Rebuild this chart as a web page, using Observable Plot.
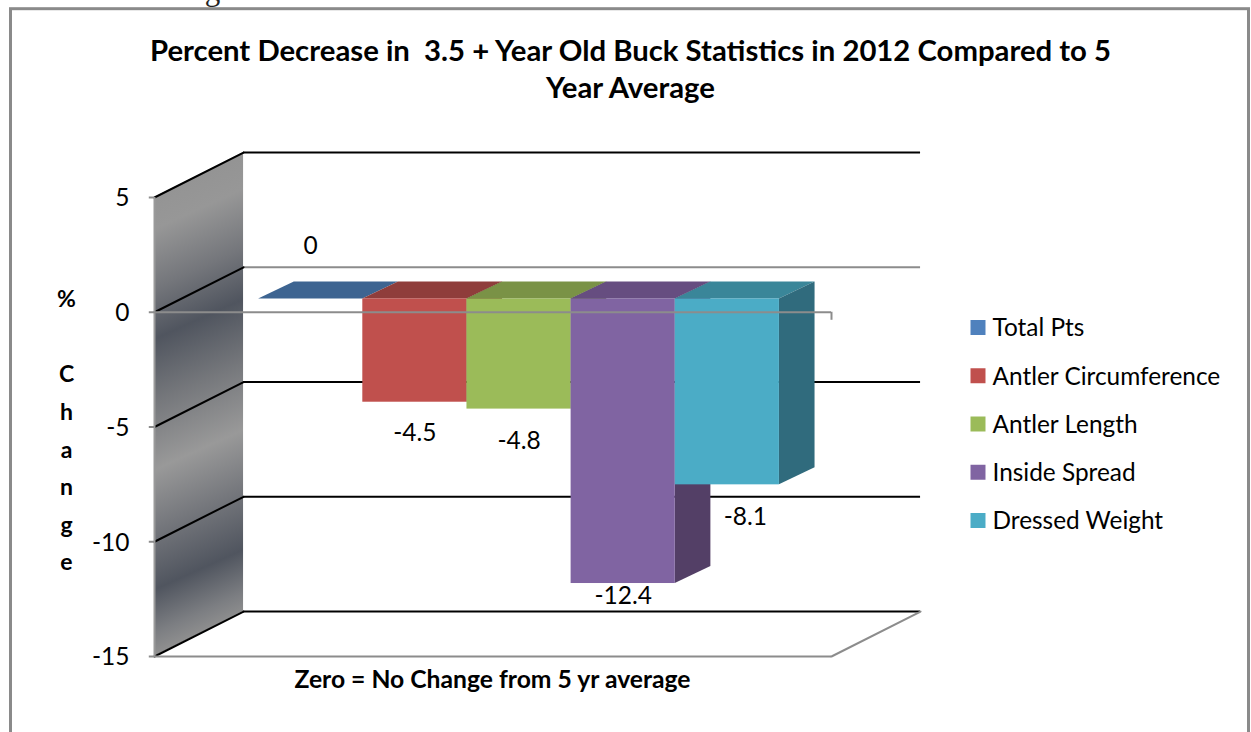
<!DOCTYPE html>
<html>
<head>
<meta charset="utf-8">
<script src="https://cdn.jsdelivr.net/npm/d3@7"></script>
<script src="https://cdn.jsdelivr.net/npm/@observablehq/plot@0.6"></script>
<style>
html,body{margin:0;padding:0;background:#fff;overflow:hidden}
svg{display:block}
</style>
</head>
<body>
<div id="chart"></div>
<script>
const seriesNames = ["Total Pts", "Antler Circumference", "Antler Length", "Inside Spread", "Dressed Weight"];
const seriesValues = [0, -4.5, -4.8, -12.4, -8.1];
const valueLabels = ["0", "-4.5", "-4.8", "-12.4", "-8.1"];
const frontColors = ["#4f81bd", "#c0504d", "#9bbb59", "#8064a2", "#4bacc6"];
const topColors = ["#3d6491", "#8f3d3b", "#7a9246", "#664d80", "#3a8699"];
const sideColors = ["#2f4d71", "#6f2f2d", "#5d7035", "#533f66", "#306b7d"];
const yTicks = [5, 0, -5, -10, -15];
const titleText = "Percent Decrease in  3.5 + Year Old Buck Statistics in 2012 Compared to 5\nYear Average";
const captionText = "Zero = No Change from 5 yr average";
const yAxisTitle = "%\n\nC\nh\na\nn\ng\ne";
const clippedText = "below the average.";

// 3-D projection, in scale units
const wallDepthX = 0.855, wallDepthY = 1.96;
const barDepthX = 0.342, barDepthY = 0.74, barLift = 0.58;
const xMin = -1, xMax = 5.5, yMin = -15, yMax = 5;
const ink = "#000", rim = "#8c8c8c";
const font = "Lato, Carlito, sans-serif";

// label offsets (px) relative to the bar end
const labelDx = [0, 0, 0, 0, 18];
const labelDy = [-53, 31, 32, 13, 32];

const wallDefs = (index, {x, y}) => {
  const svgNS = "http://www.w3.org/2000/svg";
  const defs = document.createElementNS(svgNS, "defs");
  const g = document.createElementNS(svgNS, "linearGradient");
  g.setAttribute("id", "wallGrad");
  g.setAttribute("gradientUnits", "userSpaceOnUse");
  const x0 = x(xMin), y0 = y(yMax), k = 4.29;
  g.setAttribute("x1", x0); g.setAttribute("y1", y0);
  g.setAttribute("x2", x0 + 40 * k); g.setAttribute("y2", y0 + 89 * k);
  [[0, "#949494"], [0.07, "#979797"], [0.2, "#74767b"], [0.31, "#50555f"], [0.45, "#76787c"],
   [0.595, "#999999"], [0.72, "#76787d"], [0.856, "#50555f"], [0.95, "#7c7e82"], [1, "#909090"]]
    .forEach(([o, c]) => {
      const s = document.createElementNS(svgNS, "stop");
      s.setAttribute("offset", o); s.setAttribute("stop-color", c);
      g.appendChild(s);
    });
  defs.appendChild(g);
  return defs;
};

const marks = [
  wallDefs,
  Plot.frame({insetLeft: 10, insetTop: 8.2, insetRight: 3, insetBottom: -10, stroke: "#8a8a8a", strokeWidth: 3}),
  Plot.text([clippedText], {text: d => d, frameAnchor: "top-left", dx: 8, dy: -0.2, textAnchor: "start", lineAnchor: "bottom",
    fontFamily: "Liberation Serif", fontSize: 31, fill: "#222"}),
  // wall
  Plot.areaY([xMin, xMin + wallDepthX], {
    x: d => d,
    y1: d => yMin + (d - xMin) / wallDepthX * wallDepthY,
    y2: d => yMax + (d - xMin) / wallDepthX * wallDepthY,
    fill: "url(#wallGrad)"
  }),
  // back grid lines
  Plot.ruleY(yTicks, {
    y: d => d + wallDepthY, x1: xMin + wallDepthX, x2: xMax + wallDepthX,
    stroke: d => d === 0 ? rim : ink, strokeWidth: 2
  }),
  // wall diagonals
  ...yTicks.map(t => Plot.line([0, 1], {
    x: d => xMin + d * wallDepthX, y: d => t + d * wallDepthY, stroke: ink, strokeWidth: 2
  })),
  // left axis + ticks
  Plot.ruleX([xMin], {y1: yMin, y2: yMax, stroke: "#9a9a9a", strokeWidth: 2}),
  Plot.ruleY(yTicks, {x1: xMin - 0.05, x2: xMin, stroke: rim, strokeWidth: 2}),
  // floor
  Plot.ruleY([yMin], {x1: xMin, x2: xMax, stroke: rim, strokeWidth: 2}),
  Plot.line([0, 1], {x: d => xMax + d * wallDepthX, y: d => yMin + d * wallDepthY, stroke: rim, strokeWidth: 2}),
  // bars
  ...seriesValues.flatMap((v, i) => {
    const base = barLift, end = v + barLift;
    return [
      Plot.areaX([0, 1], {
        y: d => base + d * barDepthY,
        x1: d => i + d * barDepthX,
        x2: d => i + 1 + d * barDepthX,
        fill: topColors[i]
      }),
      ...(v < 0 ? [
        Plot.areaY([0, 1], {
          x: d => i + 1 + d * barDepthX,
          y1: d => end + d * barDepthY,
          y2: d => base + d * barDepthY,
          fill: sideColors[i]
        }),
        Plot.rect([v], {x1: i, x2: i + 1, y1: end, y2: base, fill: frontColors[i]})
      ] : [])
    ];
  }),
  // zero line in front
  Plot.ruleY([0], {x1: xMin, x2: xMax, stroke: rim, strokeWidth: 2}),
  Plot.ruleX([xMax], {y1: 0, y2: -0.35, stroke: rim, strokeWidth: 2}),
  // tick labels
  Plot.text(yTicks, {x: xMin, y: d => d, text: d => String(d), dx: -25, dy: 1, textAnchor: "end",
    fontFamily: font, fontSize: 24.5, fill: "#000"}),
  // value labels
  ...seriesValues.map((v, i) => Plot.text([valueLabels[i]], {
    x: i + 0.5, y: v + barLift, text: d => d, dx: labelDx[i], dy: labelDy[i],
    fontFamily: font, fontSize: 24.5, fill: "#000"
  })),
  // title, caption, axis title
  Plot.text([titleText], {text: d => d, frameAnchor: "top-left", dx: 630, dy: 34, textAnchor: "middle", lineAnchor: "top",
    fontFamily: font, fontWeight: 700, fontSize: 29.3, lineHeight: 1.26, fill: "#000"}),
  Plot.text([captionText], {text: d => d, frameAnchor: "top-left", dx: 492, dy: 680, textAnchor: "middle", lineAnchor: "middle",
    fontFamily: font, fontWeight: 700, fontSize: 24.7, fill: "#000"}),
  Plot.text([yAxisTitle], {text: d => d, frameAnchor: "top-left", dx: 66, dy: 280, textAnchor: "middle", lineAnchor: "top",
    fontFamily: font, fontWeight: 700, fontSize: 23, lineHeight: 1.635, fill: "#000"}),
  // legend
  ...seriesNames.flatMap((name, i) => {
    const ly = 327 + i * 48.25;
    return [
      Plot.dot([name], {frameAnchor: "top-left", dx: 977.5, dy: ly, symbol: "square", r: 8.46, fill: frontColors[i], stroke: null}),
      Plot.text([name], {text: d => d, frameAnchor: "top-left", dx: 992, dy: ly + 1, textAnchor: "start", lineAnchor: "middle",
        fontFamily: font, fontSize: 24.4, fill: "#000"})
    ];
  })
];

const chart = Plot.plot({
  width: 1251, height: 732,
  marginTop: 0, marginRight: 0, marginBottom: 0, marginLeft: 0,
  x: {domain: [xMin, xMax], range: [154, 831], axis: null},
  y: {domain: [yMin, yMax], range: [656, 197], axis: null},
  style: {background: "#fff", whiteSpace: "pre"},
  marks
});
document.getElementById("chart").appendChild(chart);
</script>
</body>
</html>
